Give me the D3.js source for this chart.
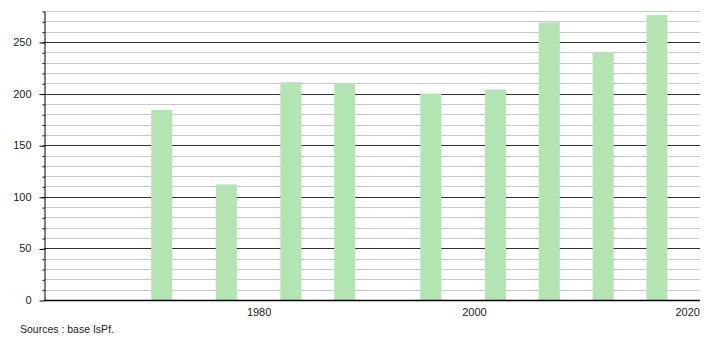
<!DOCTYPE html>
<html lang="fr">
<head>
    <meta charset="UTF-8">
    <title>Population</title>
    <script src="https://d3js.org/d3.v7.min.js"></script>
    <style>
        body { margin: 0; background: #fff; }
        svg text { font-family: "Liberation Sans", Arial, sans-serif; fill: #222; }
    </style>
</head>
<body>
<svg id="chart" width="710" height="340"></svg>
<script>
    const years = [1971, 1977, 1983, 1988, 1996, 2002, 2007, 2012, 2017];
    const values = [184, 112, 211, 210, 200, 204, 269, 240, 276];
    const yearTicks = [1980, 2000, 2020];
    const valueTicks = [0, 50, 100, 150, 200, 250];
    const sourceText = 'Sources : base IsPf.';

    const BAR_COLOR = '#b2e5b2';
    const MINOR_COLOR = '#c8c8c8';
    const MAJOR_COLOR = '#333';
    const LEFT = 44, RIGHT = 700, TOP = 11, BOTTOM = 300;
    const svg = d3.select('#chart');

    const xScale = d3.scaleLinear().domain([1960, 2021]).range([43.3, RIGHT]);
    const yScale = d3.scaleLinear().domain([0, 280]).range([BOTTOM, TOP]);

    // grid lines every 10, darker every 50
    const gridVals = d3.range(10, 281, 10);
    svg.append('g').selectAll('line')
        .data(gridVals)
        .enter()
        .append('line')
        .attr('x1', LEFT)
        .attr('x2', RIGHT)
        .attr('y1', d => Math.round(yScale(d)) + 0.5)
        .attr('y2', d => Math.round(yScale(d)) + 0.5)
        .attr('stroke', d => d % 50 === 0 ? MAJOR_COLOR : MINOR_COLOR)
        .attr('stroke-width', 1);

    // bars
    const barW = 21;
    svg.append('g').selectAll('rect')
        .data(years)
        .enter()
        .append('rect')
        .attr('x', d => xScale(d) - barW / 2)
        .attr('width', barW)
        .attr('y', (d, i) => yScale(values[i]))
        .attr('height', (d, i) => BOTTOM - yScale(values[i]))
        .attr('fill', BAR_COLOR);

    // y axis: minor ticks
    svg.append('g')
        .attr('transform', `translate(${LEFT + 0.5}, 0.5)`)
        .call(d3.axisLeft(yScale).tickValues(gridVals).tickSize(2).tickFormat(''))
        .call(g => g.select('.domain').remove())
        .selectAll('line').attr('stroke', '#000');

    // y axis: major ticks + labels
    const yAxis = svg.append('g')
        .attr('transform', `translate(${LEFT + 0.5}, 0)`)
        .call(d3.axisLeft(yScale).tickValues(valueTicks).tickSize(5).tickPadding(8).tickSizeOuter(0));
    yAxis.select('.domain').attr('stroke', '#000');
    yAxis.selectAll('.tick line').attr('stroke', '#000').attr('transform', 'translate(0,0.5)');
    yAxis.selectAll('text')
        .style('font-family', '"Liberation Sans", Arial, sans-serif')
        .style('font-size', '11px')
        .attr('fill', '#222');

    // x axis
    const xAxis = svg.append('g')
        .attr('transform', `translate(0, ${BOTTOM + 0.5})`)
        .call(d3.axisBottom(xScale).tickValues(yearTicks).tickFormat(d3.format('d')).tickSize(0).tickPadding(8).tickSizeOuter(0));
    xAxis.select('.domain').attr('stroke', '#000').attr('stroke-width', 1.5)
        .attr('d', `M${LEFT},0H${RIGHT}`);
    xAxis.selectAll('text')
        .style('font-family', '"Liberation Sans", Arial, sans-serif')
        .style('font-size', '11px')
        .attr('fill', '#222');
    // last label is pulled in slightly to stay inside the frame
    xAxis.selectAll('.tick text').filter(d => d === 2020).attr('dx', -2);

    svg.append('text')
        .attr('x', 20)
        .attr('y', 333)
        .style('font-size', '10.5px')
        .text(sourceText);
</script>
</body>
</html>
